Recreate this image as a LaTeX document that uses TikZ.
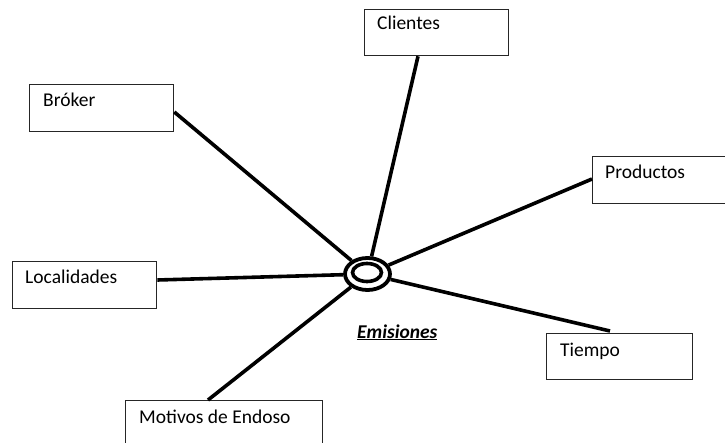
\documentclass[tikz,border=0pt]{standalone}
\usepackage{fontspec}
\setmainfont{Carlito}
\usetikzlibrary{shapes.geometric,calc}
\tikzset{
  box/.style={draw=black!85, line width=1.3pt, rectangle, anchor=north west, inner sep=0pt},
  boxtext/.style={anchor=base west, inner sep=0pt, font=\fontsize{19.5}{22}\selectfont},
  link/.style={line width=3.6pt, black},
}
\begin{document}
\begin{tikzpicture}[x=1pt,y=-1pt]
\clip (0,0) rectangle (725,443);
\fill[white] (0,0) rectangle (725,443);
% boxes
\node[box, minimum width=144pt, minimum height=46pt] (cli) at (364,9) {};
\node[box, minimum width=144pt, minimum height=47pt] (bro) at (29,84) {};
\node[box, minimum width=145pt, minimum height=47pt] (pro) at (592,156) {};
\node[box, minimum width=144pt, minimum height=47pt] (loc) at (12,261) {};
\node[box, minimum width=146pt, minimum height=46pt] (tie) at (546,333) {};
\node[box, minimum width=197pt, minimum height=48pt] (mot) at (125,400) {};
% texts
\node[boxtext] (tcli) at ($(cli.north west)+(13,21)$) {Clientes};
\node[boxtext] (tbro) at ($(bro.north west)+(14,23)$) {Bróker};
\node[boxtext] (tpro) at ($(pro.north west)+(13,23)$) {Productos};
\node[boxtext] (tloc) at ($(loc.north west)+(13,23)$) {Localidades};
\node[boxtext] (ttie) at ($(tie.north west)+(14,23)$) {Tiempo};
\node[boxtext] (tmot) at ($(mot.north west)+(14,23)$) {Motivos de Endoso};
% center
\node[ellipse, draw, line width=3.8pt, minimum width=45pt, minimum height=32pt, inner sep=0pt] (c) at (367.5,274) {};
\node[ellipse, draw, line width=3.6pt, minimum width=29pt, minimum height=18pt, inner sep=0pt] (ci) at (367,272.5) {};
\node[anchor=base west, inner sep=0pt, font=\fontsize{19.5}{22}\selectfont\bfseries\itshape] (em) at (357,338) {\underline{Emisiones}};
% connector endpoints
\coordinate (pcli) at ($(cli.south west)+(54,0)$);
\coordinate (pbro) at ($(bro.north east)+(0,28)$);
\coordinate (ppro) at ($(pro.north west)+(0,23)$);
\coordinate (ploc) at ($(loc.north east)+(0,19)$);
\coordinate (ptie) at ($(tie.north west)+(64,-2)$);
\coordinate (pmot) at ($(mot.north west)+(83,0)$);
\draw[link] (pcli) -- (c);
\draw[link] (pbro) -- (c);
\draw[link] (ppro) -- (c);
\draw[link] (ploc) -- (c);
\draw[link] (ptie) -- (c);
\draw[link] (pmot) -- (c);
\end{tikzpicture}
\end{document}
